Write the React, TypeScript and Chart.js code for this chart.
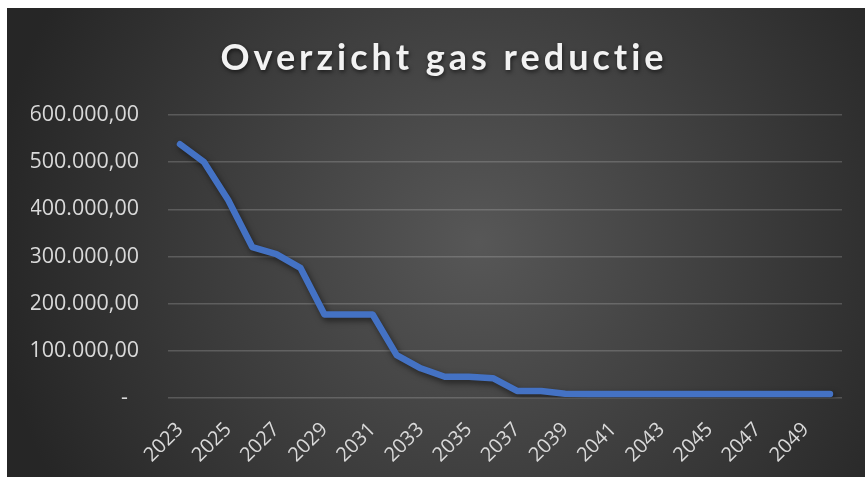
import React, { useEffect, useRef } from "react";
import { Chart, registerables } from "chart.js";

Chart.register(...registerables);

const TITLE = "Overzicht gas reductie";

const years: string[] = [
  "2023", "2024", "2025", "2026", "2027", "2028", "2029", "2030", "2031", "2032",
  "2033", "2034", "2035", "2036", "2037", "2038", "2039", "2040", "2041", "2042",
  "2043", "2044", "2045", "2046", "2047", "2048", "2049", "2050",
];

const gasValues: number[] = [
  538000, 500000, 420000, 320000, 305000, 276000, 177000, 177000, 177000, 91000,
  63000, 45000, 45000, 42000, 15000, 15000, 9000, 8500, 8500, 8500,
  8500, 8500, 8500, 8500, 8500, 8500, 8500, 8500,
];

const yMin = 0;
const yMax = 600000;
const yStep = 100000;

function formatTick(v: number): string {
  if (v === 0) return "-  ";
  const s = Math.round(v).toString().replace(/\B(?=(\d{3})+(?!\d))/g, ".");
  return s + ",00";
}

const bgPlugin = {
  id: "bgGradient",
  beforeDraw(chart: any) {
    const { ctx, width, height } = chart;
    ctx.save();
    const g = ctx.createRadialGradient(width * 0.55, height * 0.5, 0, width * 0.55, height * 0.5, Math.sqrt(width * width + height * height) / 2);
    g.addColorStop(0, "#575757");
    g.addColorStop(1, "#262626");
    ctx.fillStyle = g;
    ctx.fillRect(0, 0, width, height);
    ctx.restore();
  },
};

const titlePlugin = {
  id: "spacedTitle",
  afterDraw(chart: any) {
    const { ctx, width } = chart;
    ctx.save();
    ctx.font = "bold 36px Lato";
    (ctx as any).letterSpacing = "4px";
    ctx.fillStyle = "#f2f2f2";
    ctx.textAlign = "center";
    ctx.textBaseline = "alphabetic";
    ctx.shadowColor = "rgba(0,0,0,0.6)";
    ctx.shadowBlur = 4;
    ctx.shadowOffsetX = 1;
    ctx.shadowOffsetY = 2;
    ctx.fillText(TITLE, width / 2 + 8, 62);
    ctx.restore();
  },
};

const shadowPlugin = {
  id: "lineShadow",
  beforeDatasetsDraw(chart: any) {
    const ctx = chart.ctx;
    ctx.save();
    ctx.shadowColor = "rgba(0,0,0,0.55)";
    ctx.shadowBlur = 6;
    ctx.shadowOffsetX = 2;
    ctx.shadowOffsetY = 3;
  },
  afterDatasetsDraw(chart: any) {
    chart.ctx.restore();
  },
};

export default function App() {
  const canvasRef = useRef<HTMLCanvasElement | null>(null);

  useEffect(() => {
    if (!canvasRef.current) return;
    const chart = new Chart(canvasRef.current, {
      type: "line",
      data: {
        labels: years,
        datasets: [
          {
            label: "Gas",
            data: gasValues,
            borderColor: "#4472C4",
            backgroundColor: "#4472C4",
            borderWidth: 6.5,
            pointRadius: 0,
            borderCapStyle: "round",
            borderJoinStyle: "round",
            tension: 0,
          },
        ],
      },
      options: {
        responsive: false,
        animation: false,
        layout: { padding: { top: 107, left: 24, right: 23, bottom: 0 } },
        plugins: {
          legend: { display: false },
          tooltip: { enabled: false },
          title: { display: false },
        },
        scales: {
          x: {
            offset: true,
            grid: { display: false, drawTicks: false },
            border: { display: false },
            afterFit: (s: any) => {
              s.paddingLeft = 0;
              s.paddingRight = 0;
              s.height = 79;
            },
            ticks: {
              autoSkip: false,
              maxRotation: 45,
              minRotation: 45,
              padding: 20,
              color: "#d9d9d9",
              font: { family: "'Open Sans'", size: 20 },
              callback: (_v: any, i: number) => (i % 2 === 0 ? years[i] : ""),
            },
          },
          y: {
            min: yMin,
            max: yMax,
            grid: { color: "rgba(217,217,217,0.22)", lineWidth: 1.5, drawTicks: false },
            border: { display: false },
            afterFit: (s: any) => {
              s.width = 137;
            },
            ticks: {
              stepSize: yStep,
              padding: 29,
              color: "#d9d9d9",
              font: { family: "'Open Sans'", size: 21.5 },
              callback: (v: any) => formatTick(Number(v)),
            },
          },
        },
      },
      plugins: [bgPlugin, shadowPlugin, titlePlugin],
    });
    return () => chart.destroy();
  }, []);

  return (
    <div style={{ position: "absolute", left: 7, top: 8, width: 858, height: 469 }}>
      <canvas ref={canvasRef} width={858} height={469} style={{ display: "block" }} />
    </div>
  );
}
